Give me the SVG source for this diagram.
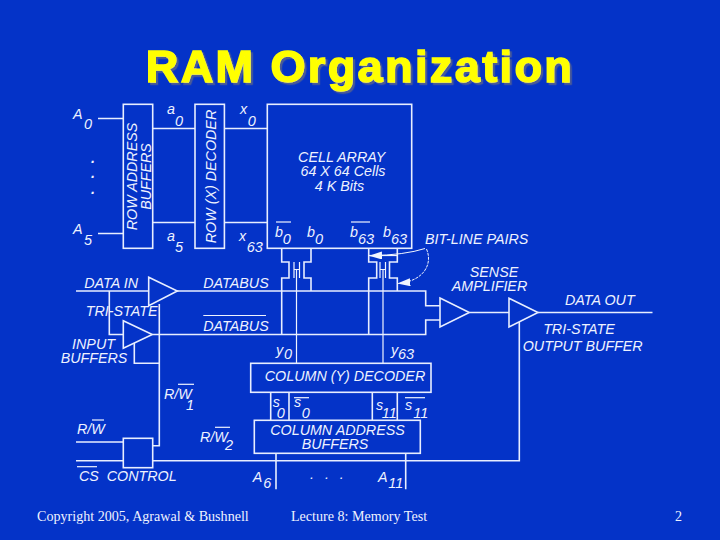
<svg xmlns="http://www.w3.org/2000/svg" width="720" height="540" viewBox="0 0 720 540">
<style>
.b{fill:none;stroke:#e8eeff;stroke-width:1.6}
.w{fill:none;stroke:#f0f4ff;stroke-width:1.2}
text{font-family:"Liberation Sans",Arial,sans-serif;fill:#eef2ff}
.t{font-size:14.3px;font-style:italic}
.d{font-weight:700}
.m{text-anchor:middle}
.sub{font-size:14.5px}
.f{font-family:"Liberation Serif","Times New Roman",serif;font-size:14.1px}
.ti{font-size:45px;font-weight:700;letter-spacing:2.4px;text-anchor:middle;fill:#ffff00;stroke:#ffff00;stroke-width:1.5}
</style>
<defs>
<marker id="ah" markerWidth="13" markerHeight="8" refX="12" refY="4" orient="auto" markerUnits="userSpaceOnUse"><path d="M0 0L13 4L0 8Z" fill="#f0f4ff"/></marker>
<filter id="sh" x="-5%" y="-20%" width="110%" height="140%"><feDropShadow dx="2.200" dy="2.200" stdDeviation="0.300" flood-color="#4a5a98"/></filter>
</defs>
<rect width="720" height="540" fill="#0433c8"/>
<g id="title">
<text class="ti" x="360" y="82" filter="url(#sh)">RAM Organization</text>
</g>
<g id="connectors">
<path class="b" d="M98 118.500H123M98 233.500H123M153 128.500H195M153 222.500H195M224.500 128.500H267M224.500 222.500H267"/>
<path class="b" d="M281.700 248.500V262H289V278H281.700V334.500M311 248.500V262H304V278H311V291"/>
<path class="b" d="M368.700 248.500V262H376.700V278H368.700V334.500M397.300 248.500V262H389.500V278H397.300V291"/>
<path class="w" d="M294 262V278M299.500 262V278M294 269.500H299.500M296.500 269.500V364"/>
<path class="w" d="M380 262V278M385.500 262V278M380 269.500H385.500M383 269.500V364"/>
<path class="b" d="M177 291H425.700V305.700H440M152.500 334.500H425.700V320H440"/>
<path class="b" d="M76 291H148.700M109.300 291V334.500H123.300M159.300 304V445.700H152.700M134.300 343V363.300H159.300"/>
<path class="b" d="M469.500 312.500H509M538 312.500H652.500M519.300 322V460.700H152.700M76 442H123.300M76 460.700H123.300"/>
<path class="b" d="M270.700 392.300V420.300M289 392.300V420.300M372.300 392.300V420.300M397.300 392.300V420.300M276 453.300V489.300M405.700 453.300V489.300"/>
<path class="w" d="M368.700 255.500H397.300"/>
<path d="M425 248.500Q405 255 370 255.700" fill="none" stroke="#f0f4ff" stroke-width="1" marker-end="url(#ah)"/>
<path d="M426.500 249C433 264 424 281 398.300 283.500" fill="none" stroke="#f0f4ff" stroke-width="1" stroke-dasharray="3 1" marker-end="url(#ah)"/>
</g>
<g id="row-address-buffers">
<rect class="b" x="123.300" y="104.300" width="29.400" height="144"/>
<text class="t m" transform="translate(136.500 176.500) rotate(-90)">ROW ADDRESS</text>
<text class="t m" transform="translate(150.700 176.500) rotate(-90)">BUFFERS</text>
</g>
<g id="row-decoder">
<rect class="b" x="195" y="104.300" width="29.400" height="144"/>
<text class="t m" transform="translate(215.500 176.500) rotate(-90)">ROW (X) DECODER</text>
</g>
<g id="cell-array">
<rect class="b" x="267.300" y="104.300" width="144.400" height="144"/>
<text class="t m" x="341.700" y="161.700">CELL ARRAY</text>
<text class="t m" x="343" y="176">64 X 64 Cells</text>
<text class="t m" x="339.500" y="190.700">4 K Bits</text>
</g>
<g id="sense-amplifier">
<path class="b" d="M440 298L469.300 312.500L440 327Z"/>
<text class="t m" x="494" y="277.300">SENSE</text>
<text class="t m" x="489.500" y="291">AMPLIFIER</text>
</g>
<g id="output-buffer">
<path class="b" d="M509 298.300L538 312.500L509 327Z"/>
<text class="t m" x="579" y="334.300">TRI-STATE</text>
<text class="t m" x="582.700" y="351.300">OUTPUT BUFFER</text>
</g>
<g id="input-buffer-1">
<path class="b" d="M148.700 277.300L177.300 291L148.700 305.700Z"/>
</g>
<g id="input-buffer-2">
<path class="b" d="M123.300 320.700L152.300 334.500L123.300 348.300Z"/>
</g>
<g id="column-decoder">
<rect class="b" x="250.700" y="363.300" width="180.300" height="29"/>
<text class="t m" x="345" y="381">COLUMN (Y) DECODER</text>
</g>
<g id="column-address-buffers">
<rect class="b" x="254.300" y="420.300" width="166" height="33"/>
<text class="t m" x="337.500" y="435">COLUMN ADDRESS</text>
<text class="t m" x="335" y="449">BUFFERS</text>
</g>
<g id="control">
<rect class="b" x="123.300" y="438.300" width="29.400" height="29.400"/>
<text class="t" x="106.700" y="481">CONTROL</text>
</g>
<g id="labels">
<text class="t" x="73" y="119">A<tspan class="sub" x="84" y="128.500">0</tspan></text>
<text class="t" x="73" y="234">A<tspan class="sub" x="84" y="244.500">5</tspan></text>
<text class="t m d" x="93" y="163">.</text><text class="t m d" x="93" y="178">.</text><text class="t m d" x="93" y="194">.</text>
<text class="t" x="167" y="114">a<tspan class="sub" x="175" y="125.700">0</tspan></text>
<text class="t" x="167" y="241">a<tspan class="sub" x="175" y="251.700">5</tspan></text>
<text class="t" x="240" y="114">x<tspan class="sub" x="247.700" y="126">0</tspan></text>
<text class="t" x="239" y="241">x<tspan class="sub" x="246.700" y="251.700">63</tspan></text>
<text class="t" x="275" y="236.700">b<tspan class="sub" x="282.700" y="244.300">0</tspan></text><path class="w" d="M276 222H291"/>
<text class="t" x="307" y="236.700">b<tspan class="sub" x="315" y="244.300">0</tspan></text>
<text class="t" x="350" y="236.700">b<tspan class="sub" x="358" y="244.300">63</tspan></text><path class="w" d="M351 222H370"/>
<text class="t" x="383" y="236.700">b<tspan class="sub" x="391" y="244.300">63</tspan></text>
<text class="t" x="425" y="244">BIT-LINE PAIRS</text>
<text class="t" x="84.300" y="287.700">DATA IN</text>
<text class="t" x="203.300" y="288">DATABUS</text>
<text class="t" x="85.700" y="315.700">TRI-STATE</text>
<text class="t" x="203.300" y="330.700">DATABUS</text><path class="w" d="M203.300 315.500H266"/>
<text class="t m" x="93.500" y="349">INPUT</text>
<text class="t m" x="94" y="362.700">BUFFERS</text>
<text class="t" x="565" y="305">DATA OUT</text>
<text class="t" x="276" y="355">y<tspan class="sub" x="284" y="359">0</tspan></text>
<text class="t" x="391" y="355">y<tspan class="sub" x="398" y="359">63</tspan></text>
<text class="t" x="164" y="399">R/W<tspan class="sub" x="186" y="410">1</tspan></text><path class="w" d="M178 384.300H194"/>
<text class="t" x="77" y="434.300">R/W</text><path class="w" d="M92 420H104"/>
<text class="t" x="200" y="442">R/W<tspan class="sub" x="225" y="450">2</tspan></text><path class="w" d="M215 427.300H230"/>
<text class="t" x="79" y="481">CS</text><path class="w" d="M77 466.700H97"/>
<text class="t" x="272.700" y="406.700">s<tspan class="sub" x="276.700" y="417.700">0</tspan></text>
<text class="t" x="294" y="406.700">s<tspan class="sub" x="301.700" y="418">0</tspan></text><path class="w" d="M294 397.700H309"/>
<text class="t" x="376" y="410">s<tspan class="sub" x="381.700" y="418">11</tspan></text>
<text class="t" x="405" y="410">s<tspan class="sub" x="413.300" y="417.700">11</tspan></text><path class="w" d="M405 397.700H425"/>
<text class="t" x="252.700" y="481.700">A<tspan class="sub" x="263.300" y="488.300">6</tspan></text>
<text class="t" x="378" y="481.700">A<tspan class="sub" x="388.300" y="488">11</tspan></text>
<text class="t m" x="312" y="479">.</text><text class="t m" x="327" y="479">.</text><text class="t m" x="341.700" y="479">.</text>
</g>
<g id="footer">
<text class="f" x="37" y="521">Copyright 2005, Agrawal &amp; Bushnell</text>
<text class="f" x="291" y="521">Lecture 8: Memory Test</text>
<text class="f" x="675" y="521">2</text>
</g>
</svg>
